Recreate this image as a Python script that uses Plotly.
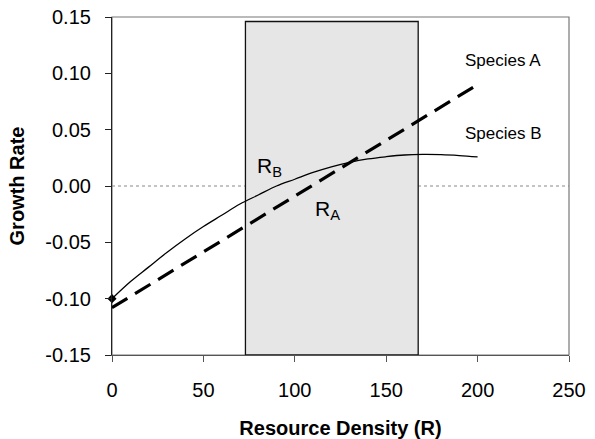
import plotly.graph_objects as go

# Data
species_a_R = [0, 200]
species_a_g = [-0.108, 0.090]

species_b_R = [0, 10, 20, 30, 40, 50, 60, 70, 80, 90, 100, 110, 120, 130,
               140, 150, 160, 170, 180, 190, 200]
species_b_g = [-0.100, -0.085, -0.072, -0.059, -0.047, -0.036, -0.026,
               -0.016, -0.008, 0.000, 0.006, 0.012, 0.017, 0.021, 0.024,
               0.026, 0.0275, 0.028, 0.0278, 0.027, 0.0258]

shade_R = [73, 167.5]
shade_g = [-0.15, 0.146]

x_ticks = [0, 50, 100, 150, 200, 250]
y_ticks = [-0.15, -0.10, -0.05, 0.00, 0.05, 0.10, 0.15]
y_tick_labels = ["-0.15", "-0.10", "-0.05", "0.00", "0.05", "0.10", "0.15"]

FONT = "Liberation Sans, Arial, sans-serif"

fig = go.Figure()

fig.add_trace(go.Scatter(
    x=species_b_R, y=species_b_g, mode="lines",
    line=dict(color="black", width=1.3, shape="spline"),
    showlegend=False, hoverinfo="skip"))
fig.add_trace(go.Scatter(
    x=species_b_R[:1], y=species_b_g[:1], mode="markers",
    marker=dict(color="black", size=7, symbol="diamond"),
    cliponaxis=False, showlegend=False, hoverinfo="skip"))
fig.add_trace(go.Scatter(
    x=species_a_R, y=species_a_g, mode="lines",
    line=dict(color="black", width=3.2, dash="18px,9px"),
    showlegend=False, hoverinfo="skip"))

shapes = [
    dict(type="rect", xref="paper", yref="paper", x0=0, x1=1, y0=0, y1=1,
         line=dict(color="#777", width=1.2), layer="below"),
    dict(type="rect", xref="x", yref="y", x0=shade_R[0], x1=shade_R[1],
         y0=shade_g[0], y1=shade_g[1], fillcolor="#e6e6e6",
         line=dict(color="#111", width=1.3), layer="below"),
    dict(type="line", xref="paper", yref="y", x0=0, x1=1, y0=0, y1=0,
         line=dict(color="#888", width=1, dash="dot"), layer="below"),
]

annotations = [
    dict(x=214, y=0.111, xref="x", yref="y", text="Species A", showarrow=False,
         font=dict(size=17, color="black", family=FONT)),
    dict(x=214, y=0.047, xref="x", yref="y", text="Species B", showarrow=False,
         font=dict(size=17, color="black", family=FONT)),
    dict(x=86, y=0.017, xref="x", yref="y", text="R<sub>B</sub>", showarrow=False,
         font=dict(size=21, color="black", family=FONT)),
    dict(x=118, y=-0.021, xref="x", yref="y", text="R<sub>A</sub>", showarrow=False,
         font=dict(size=21, color="black", family=FONT)),
]

fig.update_layout(
    width=595, height=439,
    margin=dict(l=112, r=26, t=17, b=84),
    paper_bgcolor="white", plot_bgcolor="white",
    shapes=shapes, annotations=annotations,
    font=dict(family=FONT, color="black"),
    xaxis=dict(
        range=[0, 250], tickvals=x_ticks, ticks="outside", ticklen=6,
        tickcolor="#555", tickwidth=1.2, showgrid=False, zeroline=False,
        showline=True, linecolor="#555", linewidth=1.2, ticklabelstandoff=11,
        automargin=False,
        tickfont=dict(size=20, family=FONT, color="black"),
        title=dict(text="<b>Resource Density (R)</b>", standoff=20,
                   font=dict(size=20, family=FONT, color="black")),
    ),
    yaxis=dict(
        range=[-0.15, 0.15], tickvals=y_ticks, ticktext=y_tick_labels,
        ticks="outside", ticklen=6, tickcolor="#222", tickwidth=1.2,
        showgrid=False, zeroline=False, showline=True, linecolor="#222",
        linewidth=1.2, ticklabelstandoff=10, automargin=False,
        tickfont=dict(size=20, family=FONT, color="black"),
        title=dict(text="<b>Growth Rate</b>", standoff=15,
                   font=dict(size=20, family=FONT, color="black")),
    ),
)

fig.write_html("out.html")
